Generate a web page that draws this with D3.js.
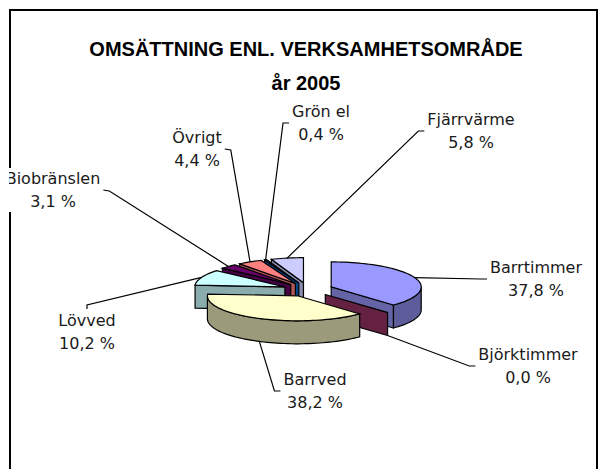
<!DOCTYPE html>
<html>
<head>
<meta charset="utf-8">
<script src="https://cdnjs.cloudflare.com/ajax/libs/d3/7.8.5/d3.min.js"></script>
<style>
  body { margin: 0; background: #fff; }
  text { font-family: "DejaVu Sans", Verdana, sans-serif; }
</style>
</head>
<body>
<div id="chart"></div>
<script>
// data
const categories = ["Barrtimmer", "Björktimmer", "Barrved", "Lövved", "Biobränslen", "Övrigt", "Grön el", "Fjärrvärme"];
const shares = [37.8, 0.0, 38.2, 10.2, 3.1, 4.4, 0.4, 5.8];
const colors = ["#9999FF", "#993366", "#FFFFCC", "#CCFFFF", "#660066", "#FF8080", "#0066CC", "#CCCCFF"];
const titleLines = ["OMSÄTTNING ENL. VERKSAMHETSOMRÅDE", "år 2005"];

// where each data label sits: [center x, center y, side the leader leaves from]
const labelSpots = [
  [536, 279, "left"], [528, 366, "left"], [315, 391, "left"], [87, 332, "top"],
  [53, 190, "right"], [197, 149, "right"], [321, 123, "left"], [471, 131, "left"]
];

const width = 600, height = 469;
const cx = 308, cy = 289.5;      // pie centre
const rx = 90, ry = 25;          // ellipse radii of the top face
const depth = 23, explode = 25;

const fmt = d3.formatLocale({ decimal: ",", thousands: " ", grouping: [3], currency: ["", " kr"] }).format(".1f");

const svg = d3.select("#chart").append("svg")
  .attr("width", width)
  .attr("height", height);

// frame of the chart area
svg.append("rect")
  .attr("x", 10).attr("y", 10)
  .attr("width", 587).attr("height", 480)
  .attr("fill", "none")
  .attr("stroke", "#000")
  .attr("stroke-width", 2);

// title
svg.selectAll("text.title")
  .data(titleLines)
  .enter()
  .append("text")
  .attr("class", "title")
  .attr("x", 306)
  .attr("y", (d, i) => 56 + i * 34)
  .attr("text-anchor", "middle")
  .style("font-family", "'Liberation Sans', Arial, sans-serif")
  .style("font-weight", "bold")
  .style("font-size", "20px")
  .text(d => d);

// projection of the flat pie onto the screen
const xs = d3.scaleLinear().domain([-1, 1]).range([-rx, rx]);
const ys = d3.scaleLinear().domain([-1, 1]).range([-ry, ry]);

const arcs = d3.pie().sort(null).value(d => d)(shares);

const slices = arcs.map((a, i) => {
  const m = (a.startAngle + a.endAngle) / 2;
  return {
    i: i,
    a0: a.startAngle,
    a1: a.endAngle,
    mid: m,
    ox: cx + explode * Math.sin(m),
    oy: cy - explode * (ry / rx) * Math.cos(m)
  };
});

function rimPoint(s, t, dz) {
  return [s.ox + xs(Math.sin(t)), s.oy - ys(Math.cos(t)) + dz];
}

function rimPoints(s, a, b, dz) {
  const n = Math.max(2, Math.ceil((b - a) / 0.04));
  return d3.range(n + 1).map(k => rimPoint(s, a + (b - a) * k / n, dz));
}

const line = d3.line().curve(d3.curveLinearClosed);

// back slices first, front slices last
const order = slices.slice().sort((p, q) => p.oy - q.oy);

const pieG = svg.append("g").attr("class", "pie");

order.forEach(s => {
  const col = colors[s.i];
  const g = pieG.append("g");
  const apex = [s.ox, s.oy];
  const apexLow = [s.ox, s.oy + depth];

  // radial wall at the start angle
  if (Math.sin(s.a0) < 0) {
    const p = rimPoint(s, s.a0, 0), q = rimPoint(s, s.a0, depth);
    g.append("path")
      .attr("d", line([apex, p, q, apexLow]))
      .attr("fill", d3.color(col).darker(1.1))
      .attr("stroke", "#000").attr("stroke-width", 1.2);
  }
  // radial wall at the end angle
  if (Math.sin(s.a1) > 0) {
    const p = rimPoint(s, s.a1, 0), q = rimPoint(s, s.a1, depth);
    g.append("path")
      .attr("d", line([apex, p, q, apexLow]))
      .attr("fill", d3.color(col).darker(1.2))
      .attr("stroke", "#000").attr("stroke-width", 1.2);
  }
  // curved outer wall, front half only
  const w0 = Math.max(s.a0, Math.PI / 2), w1 = Math.min(s.a1, Math.PI * 1.5);
  if (w1 > w0) {
    const pts = rimPoints(s, w0, w1, 0).concat(rimPoints(s, w0, w1, depth).reverse());
    g.append("path")
      .attr("d", line(pts))
      .attr("fill", d3.color(col).darker(1.4))
      .attr("stroke", "#000").attr("stroke-width", 1.2);
  }
  // top face
  if (s.a1 > s.a0) {
    g.append("path")
      .attr("d", line([apex].concat(rimPoints(s, s.a0, s.a1, 0))))
      .attr("fill", col)
      .attr("stroke", "#000").attr("stroke-width", 1.2);
  }
});

// data labels with leader lines
svg.append("clipPath").attr("id", "area")
  .append("rect").attr("x", 9).attr("y", 0).attr("width", 600).attr("height", height);

const labelG = svg.append("g").attr("clip-path", "url(#area)");

slices.forEach(s => {
  const [lx, ly, side] = labelSpots[s.i];
  const g = labelG.append("g");
  const box = g.append("rect").attr("fill", "#fff");
  const txt = g.append("text")
    .attr("text-anchor", "middle")
    .style("font-size", "16px")
    .attr("fill", "#1a1a1a");
  txt.append("tspan").attr("x", lx).attr("y", ly - 6).text(categories[s.i]);
  txt.append("tspan").attr("x", lx).attr("y", ly + 17).text(fmt(shares[s.i]) + " %");

  const bb = txt.node().getBBox();
  box.attr("x", bb.x - 2).attr("y", bb.y - 1)
    .attr("width", bb.width + 4).attr("height", bb.height + 2);

  // the point the leader aims at on the slice
  const front = Math.cos(s.mid) < 0;
  const tip = rimPoint(s, s.mid, front ? depth : 0);

  let start, stub;
  if (side === "left") {
    start = [bb.x - 3, ly];
    stub = [bb.x - 9, ly];
  } else if (side === "right") {
    start = [bb.x + bb.width + 3, ly];
    stub = [bb.x + bb.width + 9, ly + 1];
  } else {
    start = [lx, bb.y - 2];
    stub = [lx, bb.y - 6];
  }

  labelG.insert("path", ":first-child")
    .attr("d", d3.line()([start, stub, tip]))
    .attr("fill", "none")
    .attr("stroke", "#000")
    .attr("stroke-width", 1.2);
});
</script>
</body>
</html>
